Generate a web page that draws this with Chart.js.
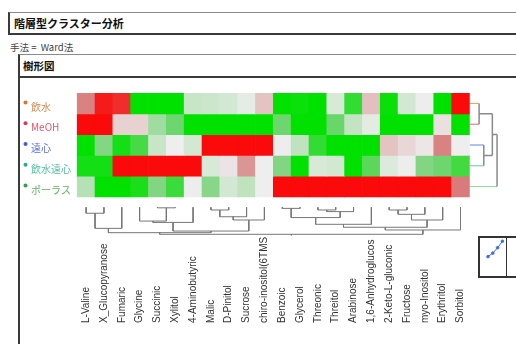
<!DOCTYPE html>
<html lang="ja">
<head>
<meta charset="utf-8">
<title>階層型クラスター分析</title>
<script src="https://cdn.jsdelivr.net/npm/chart.js@4.4.1/dist/chart.umd.min.js"></script>
<style>
  body { margin: 0; width: 516px; height: 344px; overflow: hidden; background: #fff; position: relative; font-family: "Noto Sans CJK JP", sans-serif; }
  .box { position: absolute; background: #fff; border-top: 1px solid #8a8a8a; border-left: 2px solid #3a3a3a; border-bottom: 2px solid #3a3a3a; box-sizing: border-box; font-weight: bold; color: #111; }
  #title { left: 8px; top: 12px; width: 600px; height: 23px; font-size: 11px; line-height: 20px; padding-left: 4px; }
  #method { position: absolute; left: 10px; top: 40px; font-size: 9.5px; color: #444; }
  #dendroHead { left: 18px; top: 54px; width: 600px; height: 24px; font-size: 10.5px; line-height: 21px; padding-left: 3px; }
  #outline { position: absolute; left: 18px; top: 77px; width: 2px; height: 270px; background: #3a3a3a; }
  #main { position: absolute; left: 0; top: 0; }
  #distBox { position: absolute; left: 478px; top: 236px; width: 60px; height: 42px; border: 2px solid #333; box-sizing: border-box; }
  #distSep { position: absolute; left: 506px; top: 236px; width: 1px; height: 42px; background: #333; }
  #dist { position: absolute; left: 479px; top: 235px; }
</style>
</head>
<body>
<div id="title" class="box">階層型クラスター分析</div>
<div id="method">手法 = &nbsp;Ward法</div>
<div id="dendroHead" class="box">樹形図</div>
<div id="outline"></div>
<canvas id="main" width="516" height="344"></canvas>
<div id="distBox"></div>
<div id="distSep"></div>
<canvas id="dist" width="30" height="42"></canvas>
<script>
// 行・列の名前
const rowNames = ['飲水', 'MeOH', '遠心', '飲水遠心', 'ポーラス'];
const rowDotColors = ['#d2782a', '#dc3c50', '#3c5ae6', '#28aa8c', '#32a046'];
const rowTextColors = ['#cd8a4f', '#e05a6e', '#5a6ee6', '#50bea0', '#64b464'];
const rowLeafColors = ['#e6a05a', '#dc6478', '#6482e6', '#64c8aa', '#96d296'];
const colNames = ['L-Valine', 'X_Glucopyranose', 'Fumaric', 'Glycine', 'Succinic', 'Xylitol',
  '4-Aminobutyric', 'Malic', 'D-Pinitol', 'Sucrose', 'chiro-inositol(6TMS', 'Benzoic',
  'Glycerol', 'Threonic', 'Threitol', 'Arabinose', '1,6-Anhydroglucos', '2-Keto-L-gluconic',
  'Fructose', 'myo-Inositol', 'Erythritol', 'Sorbitol'];

// 標準化した値 (-1 = 緑, 0 = 灰, +1 = 赤)
const vInsui = [0.52, 0.93, 0.86, -1, -1, -1, -0.17, -0.15, -0.12, -0.04, 0.21,
  -1, -0.96, -1, -0.1, -0.8, 0.23, -0.97, -0.12, -0.01, -1, 1];
const vMeOH = [1, 1, 0.14, 0.14, -0.35, -0.56, -1, -1, -1, -1, -1,
  -0.56, -1, -1, -0.58, -0.19, -0.05, -1, -1, -1, 0.07, -1];
const vEnshin = [-1, -0.47, -0.92, -0.72, -0.17, 0, -0.12, 1, 1, 1, 1,
  -0.01, -0.21, -0.8, -1, -1, -1, 0.21, 0.11, 0.04, 0.52, 0];
const vInsuiEnshin = [-0.92, -0.92, 1, 1, 1, 1, 1, -0.1, 0.05, 0.43, 0,
  -0.48, -1, -0.1, -0.12, -1, -0.64, -0.08, -0.01, -0.48, -0.56, -0.74];
const vPorous = [-0.25, -1, -1, -0.9, -0.48, -0.76, -0.01, -0.45, -0.12, -0.21, 0,
  1, 1, 1, 1, 1, 1, 1, 1, 1, 1, 0.55];
const heat = [vInsui, vMeOH, vEnshin, vInsuiEnshin, vPorous];

// 結合 [子a, 子b, 距離]  (番号 >= 葉数 は前の結合)
const colMerges = [
  [0, 1, 0.22], [22, 2, 0.78], [4, 5, 0.02], [3, 24, 0.51], [25, 6, 0.56],
  [7, 8, 0.10], [27, 9, 0.35], [28, 10, 0.47], [26, 29, 0.88], [23, 30, 0.94],
  [11, 12, 0.04], [13, 14, 0.10], [33, 15, 0.16], [32, 34, 0.38], [35, 16, 0.63],
  [17, 18, 0.10], [37, 19, 0.26], [38, 20, 0.47], [36, 39, 0.74], [40, 21, 0.84],
  [31, 41, 1.0]
];
const rowMerges = [[0, 1, 0.35], [2, 3, 0.52], [5, 6, 0.83], [7, 4, 1.0]];
const distHistory = [0.48, 0.59, 0.76, 0.96];

// 色のグラデーション
const colorStops = [[-1, [0, 225, 0]], [-0.5, [125, 212, 125]], [0, [238, 238, 238]],
  [0.5, [215, 135, 135]], [1, [250, 10, 10]]];
function cellColor(v) {
  for (let i = 1; i < colorStops.length; i++) {
    const [v0, c0] = colorStops[i - 1], [v1, c1] = colorStops[i];
    if (v <= v1) {
      const t = (v - v0) / (v1 - v0);
      const c = c0.map((a, k) => Math.round(a + (c1[k] - a) * t));
      return 'rgb(' + c.join(',') + ')';
    }
  }
  return 'rgb(250,10,10)';
}

// 樹形図の線分を作る
function dendroSegments(merges, nLeaves) {
  const pos = [], ht = [], segs = [];
  for (let i = 0; i < nLeaves; i++) { pos.push(i + 0.5); ht.push(0); }
  merges.forEach(([a, b, h]) => {
    segs.push({leaf: a < nLeaves ? a : -1, pts: [[pos[a], ht[a]], [pos[a], h]]});
    segs.push({leaf: b < nLeaves ? b : -1, pts: [[pos[b], ht[b]], [pos[b], h]]});
    segs.push({leaf: -1, pts: [[pos[a], h], [pos[b], h]]});
    pos.push((pos[a] + pos[b]) / 2);
    ht.push(h);
  });
  return {segs, pos, ht};
}
function joinSegs(segs, map) {
  const out = [];
  segs.forEach(s => {
    s.pts.forEach(p => out.push(map(p)));
    out.push({x: null, y: null});
  });
  return out;
}

const nCols = colNames.length;
const denTop = 5.495, denSpan = 1.298;   // 列の樹形図の縦位置 (y単位)
const rowDenSpan = 1.55;                   // 行の樹形図の横幅 (x単位)

const colDen = dendroSegments(colMerges, nCols);
const rootPos = colDen.pos[colDen.pos.length - 1];
colDen.segs.push({leaf: -1, pts: [[rootPos, 1], [rootPos, 1.04]]});
const colMap = p => ({x: p[0], y: denTop + p[1] * denSpan});
const rowDen = dendroSegments(rowMerges, rowNames.length);
const rowMap = p => ({x: nCols + p[1] * rowDenSpan, y: p[0]});

const datasets = heat.map((vals, r) => ({
  type: 'bar',
  data: vals.map((v, c) => ({x: c + 0.5, y: [r, r + 1]})),
  backgroundColor: vals.map(cellColor),
  borderWidth: 0,
  grouped: false,
  categoryPercentage: 1,
  barPercentage: 1
}));
datasets.push({
  type: 'line',
  data: joinSegs(colDen.segs, colMap),
  borderColor: '#777',
  borderWidth: 1,
  pointRadius: 0
});
datasets.push({
  type: 'line',
  data: joinSegs(rowDen.segs.filter(s => s.leaf < 0), rowMap),
  borderColor: '#8a8a8a',
  borderWidth: 1.5,
  pointRadius: 0
});
rowNames.forEach((n, r) => {
  datasets.push({
    type: 'line',
    data: joinSegs(rowDen.segs.filter(s => s.leaf === r), rowMap),
    borderColor: rowLeafColors[r],
    borderWidth: 1,
    pointRadius: 0
  });
});

// ラベル描画
const labelPlugin = {
  id: 'labels',
  beforeDatasetsDraw(chart) {
    const {ctx, scales: {y}} = chart;
    ctx.save();
    ctx.font = '10px "Noto Sans CJK JP"';
    ctx.textBaseline = 'middle';
    rowNames.forEach((n, r) => {
      const py = y.getPixelForValue(r + 0.5);
      ctx.fillStyle = rowDotColors[r];
      ctx.beginPath();
      ctx.arc(25.5, py - 1, 2, 0, Math.PI * 2);
      ctx.fill();
      ctx.fillStyle = rowTextColors[r];
      ctx.fillText(n, 31, py + 3.5);
    });
    ctx.restore();
  },
  afterDraw(chart) {
    const {ctx, scales: {x}} = chart;
    ctx.save();
    ctx.beginPath();
    ctx.rect(0, 237, 516, 107);
    ctx.clip();
    ctx.font = '10px "Liberation Sans"';
    ctx.fillStyle = '#333';
    ctx.textAlign = 'left';
    ctx.textBaseline = 'middle';
    colNames.forEach((n, c) => {
      ctx.save();
      ctx.translate(x.getPixelForValue(c + 0.5), 323);
      ctx.rotate(-Math.PI / 2);
      ctx.fillText(n, 0, 0);
      ctx.restore();
    });
    ctx.restore();
  }
};

new Chart(document.getElementById('main'), {
  type: 'bar',
  data: {datasets: datasets},
  options: {
    responsive: false,
    animation: false,
    devicePixelRatio: 1,
    layout: {padding: {left: 67, top: 93, right: 0, bottom: 105.4}},
    plugins: {legend: {display: false}, tooltip: {enabled: false}},
    scales: {
      x: {
        type: 'linear', display: false, min: 0, max: 24.04,
        afterBuildTicks: s => { s.ticks = colNames.map((n, i) => ({value: i})); }
      },
      y: {type: 'linear', display: false, min: 0, max: 7, reverse: true}
    },
    elements: {line: {tension: 0}}
  },
  plugins: [labelPlugin]
});

// 距離グラフ (右下)
new Chart(document.getElementById('dist'), {
  type: 'line',
  data: {
    datasets: [{
      data: distHistory.map((v, i) => ({x: i, y: v})),
      borderColor: '#3d6bf0',
      backgroundColor: '#3d6bf0',
      borderWidth: 1,
      pointRadius: 1.3
    }]
  },
  options: {
    responsive: false,
    animation: false,
    devicePixelRatio: 1,
    clip: false,
    layout: {padding: 0},
    plugins: {legend: {display: false}, tooltip: {enabled: false}},
    scales: {
      x: {type: 'linear', display: false, min: -0.83, max: 3.33},
      y: {type: 'linear', display: false, min: 0, max: 1}
    }
  }
});
</script>
</body>
</html>
